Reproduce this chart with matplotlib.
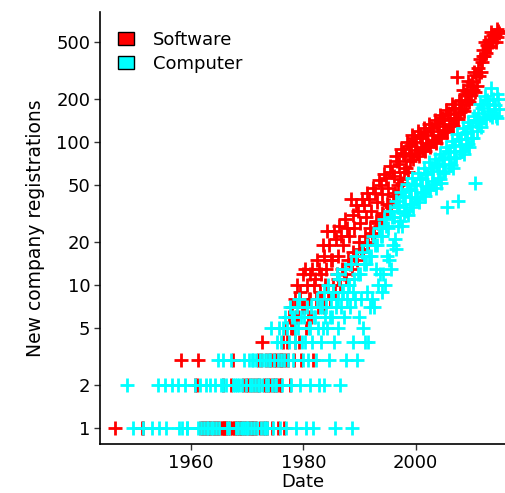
import matplotlib
matplotlib.use("Agg")
import matplotlib.pyplot as plt
from matplotlib.patches import Patch
import numpy as np

# sparse early months (date, count) before the yearly rows start
sw_early_dates = [1946.4, 1951.2, 1951.5, 1958.2, 1960.7]
sw_early_counts = [1, 1, 1, 3, 2]
cp_early_dates = [1948.6, 1949.6, 1951.4, 1953.0, 1954.1, 1954.3, 1955.3, 1955.5,
                  1956.5, 1957.7, 1957.9, 1958.3, 1958.9, 1959.2, 1959.3, 1960.6]
cp_early_counts = [2, 1, 1, 1, 2, 1, 2, 1,
                   2, 2, 1, 1, 2, 1, 1, 2]

# six readings per year from 1961 (0 = no registrations, not drawn)
first_year = 1961
software = [
    [2, 3, 0, 1, 0, 1], [1, 0, 1, 1, 0, 1], [0, 1, 1, 0, 1, 0], [1, 1, 0, 1, 1, 0],
    [1, 0, 1, 2, 1, 1], [1, 1, 0, 1, 0, 1], [2, 1, 3, 1, 1, 0], [1, 1, 0, 1, 1, 1],
    [1, 2, 1, 1, 2, 1], [2, 1, 1, 2, 1, 1], [1, 2, 1, 1, 2, 3], [2, 1, 3, 4, 1, 2],
    [1, 3, 2, 1, 2, 3], [2, 3, 1, 2, 3, 2], [3, 2, 1, 3, 2, 3], [2, 3, 4, 1, 3, 5],
    [4, 3, 6, 2, 5, 7], [5, 3, 8, 4, 6, 10], [6, 4, 9, 3, 7, 12], [7, 13, 5, 10, 6, 8],
    [8, 12, 6, 13, 3, 10], [11, 8, 15, 7, 13, 9], [12, 8, 19, 7, 16, 10],
    [13, 24, 9, 19, 8, 15], [15, 10, 24, 9, 21, 12], [16, 11, 26, 10, 22, 13],
    [19, 12, 29, 11, 25, 15], [22, 14, 40, 13, 31, 17], [25, 16, 36, 15, 33, 20],
    [27, 18, 40, 17, 36, 22], [30, 20, 44, 19, 40, 25], [33, 23, 48, 22, 44, 28],
    [38, 27, 54, 26, 50, 32], [43, 31, 60, 30, 56, 37], [48, 36, 68, 35, 62, 42],
    [58, 44, 80, 42, 74, 50], [70, 55, 90, 52, 84, 62], [82, 66, 100, 62, 94, 74],
    [95, 80, 112, 76, 106, 88], [100, 84, 120, 80, 112, 92],
    [106, 90, 126, 86, 118, 98], [112, 96, 134, 92, 126, 104],
    [120, 102, 142, 98, 136, 112], [130, 110, 154, 106, 146, 120],
    [142, 122, 168, 118, 160, 132], [156, 134, 184, 130, 174, 146],
    [172, 148, 285, 144, 194, 162], [196, 170, 230, 164, 218, 184],
    [226, 196, 266, 190, 250, 212], [264, 230, 310, 222, 294, 248],
    [330, 290, 380, 310, 360, 400], [440, 400, 500, 420, 480, 460],
    [520, 470, 590, 500, 560, 540], [560, 500, 620, 540, 600, 580],
]
computer = [
    [0, 1, 0, 2, 1, 0], [0, 1, 0, 2, 1, 0], [1, 0, 2, 1, 0, 1], [0, 2, 1, 0, 3, 1],
    [0, 2, 0, 3, 2, 0], [0, 2, 1, 0, 1, 0], [3, 0, 2, 0, 2, 1], [2, 0, 1, 2, 0, 1],
    [2, 1, 3, 1, 2, 1], [1, 3, 2, 1, 3, 2], [3, 1, 2, 3, 1, 2], [2, 3, 1, 2, 3, 1],
    [1, 2, 3, 1, 2, 3], [3, 5, 2, 1, 3, 2], [2, 4, 3, 5, 1, 3], [4, 2, 5, 3, 6, 1],
    [5, 3, 4, 7, 2, 6], [3, 6, 4, 5, 1, 7], [5, 8, 2, 6, 4, 3], [6, 4, 1, 7, 3, 5],
    [2, 5, 7, 4, 1, 6], [6, 3, 8, 5, 2, 7], [4, 7, 5, 9, 2, 6], [7, 5, 10, 3, 6, 8],
    [6, 9, 4, 1, 7, 12], [8, 5, 11, 2, 7, 9], [9, 6, 13, 3, 8, 10],
    [10, 7, 14, 1, 9, 4], [11, 8, 16, 3, 12, 6], [12, 8, 17, 5, 14, 4],
    [14, 9, 19, 4, 16, 7], [16, 8, 22, 7, 19, 13], [19, 10, 25, 12, 22, 9],
    [22, 12, 29, 10, 26, 16], [25, 15, 33, 13, 30, 19], [30, 21, 39, 18, 35, 26],
    [36, 28, 45, 26, 41, 32], [42, 33, 51, 31, 47, 37], [46, 37, 56, 35, 51, 41],
    [50, 40, 61, 38, 56, 45], [55, 44, 66, 42, 61, 49], [60, 48, 72, 46, 66, 53],
    [63, 51, 76, 48, 70, 56], [68, 55, 82, 52, 76, 61], [78, 63, 93, 35, 86, 70],
    [85, 69, 101, 66, 94, 77], [95, 78, 113, 39, 105, 86],
    [105, 86, 125, 82, 116, 95], [118, 97, 139, 92, 130, 107],
    [130, 107, 153, 52, 142, 119], [160, 135, 185, 128, 172, 148],
    [180, 150, 210, 145, 195, 165], [185, 155, 240, 150, 200, 170],
    [180, 152, 215, 146, 200, 170],
]

series_names = ["Software", "Computer"]
series_colors = ["#FF0000", "#00FFFF"]
y_ticks = [1, 2, 5, 10, 20, 50, 100, 200, 500]
x_ticks = [1960, 1980, 2000]


def to_points(early_dates, early_counts, rows):
    dates = list(early_dates)
    counts = list(early_counts)
    for k, row in enumerate(rows):
        for i, c in enumerate(row):
            if c > 0:
                dates.append(first_year + k + (i + 0.5) / len(row))
                counts.append(c)
    return np.array(dates), np.array(counts)


plt.rcParams['font.family'] = ['DejaVu Sans']

fig = plt.figure(figsize=(5.06, 4.93), dpi=100)
ax = fig.add_axes([100 / 506, 49 / 493, 406 / 506, 432 / 493])

sw_x, sw_y = to_points(sw_early_dates, sw_early_counts, software)
cp_x, cp_y = to_points(cp_early_dates, cp_early_counts, computer)
ax.plot(sw_x, sw_y, ls="none", marker="+", ms=10, mew=2, color=series_colors[0])
ax.plot(cp_x, cp_y, ls="none", marker="+", ms=10, mew=2, color=series_colors[1])

ax.set_yscale("log")
ax.set_ylim(0.775, 810)
ax.set_xlim(1943.75, 2016.1)
ax.set_yticks(y_ticks)
ax.set_yticklabels([str(v) for v in y_ticks])
ax.yaxis.set_minor_locator(plt.NullLocator())
ax.set_xticks(x_ticks)
ax.tick_params(labelsize=13, length=4, width=1, color="#333333", pad=3)

for s in ["top", "right"]:
    ax.spines[s].set_visible(False)
for s in ["left", "bottom"]:
    ax.spines[s].set_linewidth(1.2)

ax.set_xlabel("Date", fontsize=13, labelpad=1)
ax.set_ylabel("New company registrations", fontsize=13.5, labelpad=8)

handles = [Patch(facecolor=c, edgecolor="black", linewidth=1) for c in series_colors]
ax.legend(handles, series_names, loc="upper left", bbox_to_anchor=(0.044, 0.957),
          frameon=False, fontsize=13, handlelength=0.9, handleheight=0.75,
          handletextpad=1.05, labelspacing=0.35, borderpad=0, borderaxespad=0)

fig.savefig("out.png", dpi=100)
